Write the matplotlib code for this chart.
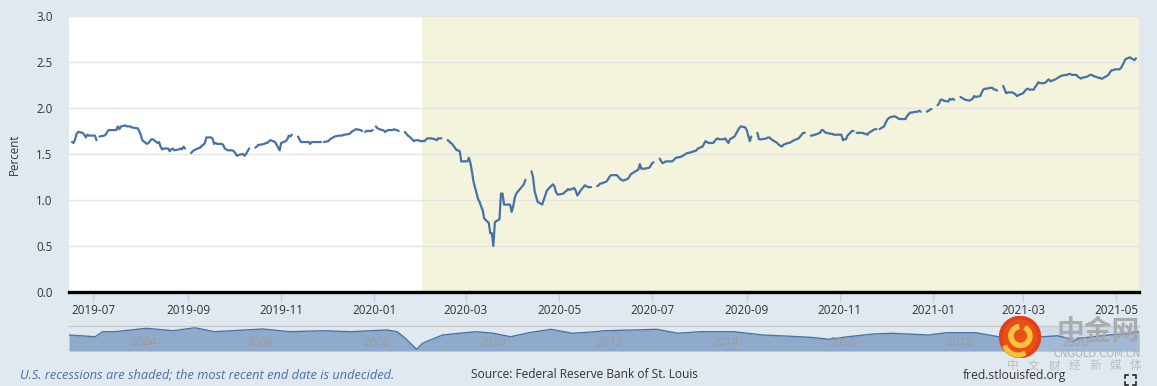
import numpy as np
import pandas as pd
import matplotlib
matplotlib.use('Agg')
import matplotlib.pyplot as plt
import matplotlib.dates as mdates
from matplotlib.patches import Circle, Wedge
from matplotlib.lines import Line2D

nan = np.nan

# 10-year breakeven inflation rate (percent), one value per business day
# nan = bond market holiday (FRED leaves a gap in the line)
rate_2019 = [
    # Jun (from the 17th)
    1.63, 1.62, 1.66, 1.72, 1.74, 1.73, 1.71, 1.68, 1.71, 1.70,
    # Jul
    1.70, 1.70, 1.65, nan, 1.69, 1.70, 1.71, 1.74, 1.76, 1.76,
    1.76, 1.76, 1.80, 1.77, 1.80, 1.81, 1.80, 1.80, 1.80, 1.79,
    1.78, 1.78, 1.75,
    # Aug
    1.71, 1.65, 1.61, 1.62, 1.64, 1.66, 1.66, 1.62, 1.63, 1.58,
    1.55, 1.56, 1.56, 1.53, 1.55, 1.56, 1.54, 1.55, 1.56, 1.55,
    1.58, 1.56,
    # Sep
    nan, 1.51, 1.53, 1.54, 1.55, 1.57, 1.59, 1.60, 1.62, 1.68,
    1.68, 1.67, 1.61, 1.62, 1.61, 1.61, 1.60, 1.56, 1.55, 1.54,
    1.54,
    # Oct
    1.53, 1.51, 1.48, 1.49, 1.50, 1.48, 1.50, 1.53, 1.56, nan,
    1.57, 1.58, 1.60, 1.60, 1.61, 1.62, 1.62, 1.64, 1.65, 1.63,
    1.60, 1.57, 1.54,
    # Nov
    1.62, 1.64, 1.66, 1.70, 1.69, 1.71, nan, 1.69, 1.66, 1.63,
    1.63, 1.63, 1.63, 1.61, 1.63, 1.63, 1.63, 1.63, 1.63, nan,
    1.63,
    # Dec
    1.64, 1.66, 1.67, 1.68, 1.69, 1.70, 1.70, 1.70, 1.71, 1.71,
    1.72, 1.74, 1.75, 1.76, 1.77, 1.76, 1.75, nan, 1.74, 1.75,
    1.75, 1.76,
]

rate_2020 = [
    # Jan
    nan, 1.80, 1.78, 1.76, 1.76, 1.74, 1.75, 1.76, 1.76, 1.77,
    1.76, 1.76, 1.75, nan, 1.74, 1.72, 1.70, 1.69, 1.64, 1.65,
    1.65, 1.65, 1.64,
    # Feb
    1.64, 1.66, 1.67, 1.67, 1.67, 1.66, 1.65, 1.67, 1.67, 1.67,
    nan, 1.65, 1.64, 1.62, 1.61, 1.54, 1.54, 1.53, 1.42, 1.42,
    # Mar
    1.42, 1.46, 1.40, 1.31, 1.20, 1.01, 0.98, 0.93, 0.89, 0.80,
    0.75, 0.64, 0.64, 0.50, 0.76, 0.79, 1.07, 1.07, 0.95, 0.95,
    0.95, 0.87,
    # Apr
    0.93, 1.02, 1.07, 1.13, 1.15, 1.17, 1.22, nan, 1.31, 1.25,
    1.10, 1.04, 0.98, 0.95, 1.00, 1.05, 1.10, 1.12, 1.17, 1.15,
    1.09, 1.06,
    # May
    1.06, 1.07, 1.09, 1.10, 1.12, 1.11, 1.13, 1.10, 1.05, 1.07,
    1.10, 1.16, 1.15, 1.14, 1.14, 1.14, nan, 1.15, 1.16, 1.18,
    1.18,
    # Jun
    1.20, 1.22, 1.25, 1.27, 1.27, 1.27, 1.25, 1.23, 1.22, 1.21,
    1.23, 1.25, 1.28, 1.29, 1.30, 1.33, 1.39, 1.34, 1.34, 1.34,
    1.35, 1.37,
    # Jul
    1.40, 1.41, nan, 1.45, 1.42, 1.40, 1.41, 1.42, 1.42, 1.42,
    1.43, 1.45, 1.46, 1.47, 1.48, 1.49, 1.50, 1.51, 1.52, 1.53,
    1.53, 1.54, 1.56,
    # Aug
    1.58, 1.61, 1.64, 1.63, 1.62, 1.62, 1.64, 1.66, 1.67, 1.66,
    1.66, 1.67, 1.64, 1.62, 1.66, 1.69, 1.72, 1.75, 1.78, 1.80,
    1.79,
    # Sep
    1.76, 1.70, 1.64, 1.69, nan, 1.73, 1.66, 1.66, 1.66, 1.67,
    1.68, 1.68, 1.66, 1.65, 1.62, 1.60, 1.59, 1.58, 1.60, 1.62,
    1.62, 1.63,
    # Oct
    1.64, 1.65, 1.67, 1.69, 1.71, 1.73, 1.73, nan, 1.70, 1.70,
    1.71, 1.71, 1.73, 1.76, 1.76, 1.74, 1.73, 1.72, 1.72, 1.71,
    1.71, 1.71,
    # Nov
    1.71, 1.65, 1.66, 1.66, 1.70, 1.75, 1.75, nan, 1.73, 1.73,
    1.73, 1.72, 1.72, 1.71, 1.73, 1.76, 1.77, 1.77, nan, 1.77,
    1.80,
    # Dec
    1.84, 1.87, 1.89, 1.90, 1.91, 1.90, 1.89, 1.88, 1.88, 1.88,
    1.91, 1.93, 1.95, 1.95, 1.96, 1.96, 1.97, 1.96, nan, 1.96,
    1.97, 1.98, 1.99,
]

rate_2021 = [
    # Jan
    nan, 2.03, 2.05, 2.09, 2.09, 2.08, 2.07, 2.10, 2.09, 2.10,
    2.09, nan, 2.12, 2.11, 2.10, 2.09, 2.08, 2.09, 2.10, 2.13,
    2.12,
    # Feb
    2.13, 2.17, 2.20, 2.21, 2.21, 2.22, 2.22, 2.20, 2.20, 2.19,
    nan, 2.24, 2.20, 2.16, 2.17, 2.17, 2.16, 2.15, 2.13, 2.14,
    # Mar
    2.16, 2.18, 2.20, 2.21, 2.20, 2.20, 2.23, 2.25, 2.28, 2.27,
    2.27, 2.28, 2.30, 2.31, 2.29, 2.31, 2.32, 2.33, 2.34, 2.35,
    2.36, 2.36, 2.37,
    # Apr
    2.37, 2.36, 2.36, 2.34, 2.33, 2.32, 2.33, 2.34, 2.35, 2.36,
    2.36, 2.35, 2.33, 2.33, 2.32, 2.32, 2.33, 2.36, 2.39, 2.41,
    2.41, 2.42,
    # May (to the 14th)
    2.42, 2.43, 2.46, 2.49, 2.53, 2.55, 2.54, 2.53, 2.52, 2.54,
]

# long history shown in the small navigator strip
nav_dates = ['2003-01-02', '2003-06-15', '2003-08-01', '2003-10-15', '2004-05-01',
             '2004-10-15', '2005-03-01', '2005-07-01', '2006-05-01', '2006-10-15',
             '2007-05-15', '2007-11-01', '2008-06-15', '2008-08-20', '2008-10-10',
             '2008-12-20', '2009-01-25', '2009-03-15', '2009-06-01', '2009-09-15',
             '2010-01-01', '2010-04-15', '2010-08-01', '2010-11-25', '2011-04-10',
             '2011-08-25', '2012-01-15', '2012-03-15', '2012-09-15', '2013-02-01',
             '2013-06-15', '2013-11-01', '2014-05-30', '2014-12-01', '2015-04-15',
             '2015-09-25', '2016-01-20', '2016-05-15', '2016-10-20', '2017-02-15',
             '2017-10-01', '2018-01-25', '2018-07-25', '2018-12-15', '2019-05-01',
             '2019-09-20', '2019-12-20', '2020-02-25', '2020-03-20', '2020-05-05',
             '2020-08-05', '2020-11-05', '2021-02-05', '2021-04-01', '2021-05-14']
nav_values = [2.00, 1.77, 2.44, 2.44, 2.89,
              2.57, 2.97, 2.44, 2.80, 2.44,
              2.57, 2.44, 2.67, 2.44, 1.56,
              0.09, 0.89, 1.33, 2.00, 2.23,
              2.44, 2.23, 1.77, 2.31, 2.76,
              2.23, 2.44, 2.57, 2.67, 2.76,
              2.23, 2.44, 2.44, 2.00, 1.87,
              1.69, 1.43, 1.77, 2.13, 2.23,
              2.00, 2.31, 2.31, 1.77, 2.00,
              1.77, 1.90, 1.56, 1.11, 1.56,
              1.77, 2.00, 2.13, 2.33, 2.44]
nav_years = [2004, 2006, 2008, 2010, 2012, 2014, 2016, 2018, 2020]

recession_start = '2020-02-01'

BG = '#e1e9f0'
LINE = '#4572a7'


def to_series(start, end, values):
    days = pd.bdate_range(start, end)
    if len(days) != len(values):
        raise ValueError(f'{start}: {len(days)} days but {len(values)} values')
    return pd.Series(values, index=days)


rates = pd.concat([
    to_series('2019-06-17', '2019-12-31', rate_2019),
    to_series('2020-01-01', '2020-12-31', rate_2020),
    to_series('2021-01-01', '2021-05-14', rate_2021),
])

W, H = 1157, 386
fig = plt.figure(figsize=(W / 100, H / 100), dpi=100, facecolor=BG)
plt.rcParams['font.family'] = ['Open Sans', 'DejaVu Sans']


def px_box(x0, y0, x1, y1):
    return [x0 / W, 1 - y1 / H, (x1 - x0) / W, (y1 - y0) / H]


# main chart
ax = fig.add_axes(px_box(69, 16, 1139, 292))
ax.set_facecolor('white')
x0, x1 = pd.Timestamp('2019-06-15'), pd.Timestamp('2021-05-16')
ax.axvspan(pd.Timestamp(recession_start), x1, color='#f4f4dc', lw=0, zorder=0)
ax.plot(rates.index, rates.values, color=LINE, lw=1.6, zorder=3,
        solid_joinstyle='round', solid_capstyle='round')
ax.set_xlim(x0, x1)
ax.set_ylim(0, 3)
ax.set_yticks(np.arange(0, 3.01, 0.5))
ax.yaxis.set_major_formatter(plt.FormatStrFormatter('%.1f'))
ax.yaxis.grid(True, color='#e4e4e4', lw=1)
ax.set_axisbelow(True)
ax.xaxis.set_major_locator(mdates.MonthLocator(bymonth=[1, 3, 5, 7, 9, 11]))
ax.xaxis.set_major_formatter(mdates.DateFormatter('%Y-%m'))
for side in ['left', 'right', 'top']:
    ax.spines[side].set_visible(False)
ax.spines['bottom'].set_color('black')
ax.spines['bottom'].set_linewidth(2.4)
ax.tick_params(axis='y', length=0, pad=12, labelsize=8.3, labelcolor='#333333')
ax.tick_params(axis='x', length=7, width=1, color='#c3d2e3', pad=2,
               labelsize=8.4, labelcolor='#333333')
fig.text(14 / W, 1 - 154 / H, 'Percent', rotation=90, ha='center', va='center',
         fontsize=8.3, color='#333333')

# navigator strip
nav = fig.add_axes(px_box(69, 326, 1139, 351))
nav.set_facecolor(BG)
nd = pd.to_datetime(nav_dates)
nav.fill_between(nd, nav_values, -0.13, color='#90aacb', lw=0)
nav.plot(nd, nav_values, color='#4a74a9', lw=1)
nav.axvspan(x0, x1, color='#b9cbe6', alpha=0.45, lw=0)
nav.set_xlim(nd[0], nd[-1])
nav.set_ylim(-0.13, 3.2)
nav.set_xticks([])
nav.set_yticks([])
for side in ['left', 'right', 'bottom']:
    nav.spines[side].set_visible(False)
nav.spines['top'].set_color('#c8c8c8')
nav.spines['top'].set_linewidth(1)
for yr in nav_years:
    nav.text(pd.Timestamp(f'{yr}-01-20'), 1.05, str(yr), ha='left', va='center',
             fontsize=8.3, color='#a09a94')

# footer
fig.text(20 / W, 1 - 375 / H, 'U.S. recessions are shaded; the most recent end date is undecided.',
         ha='left', va='center', fontsize=9.2, style='italic', color='#4a6ea8')
fig.text(471 / W, 1 - 375 / H, 'Source: Federal Reserve Bank of St. Louis',
         ha='left', va='center', fontsize=8.6, color='#333333')
fig.text(963 / W, 1 - 376 / H, 'fred.stlouisfed.org',
         ha='left', va='center', fontsize=8.7, color='#333333')

# fullscreen icon
for (cx, cy, dx, dy) in [(1125, 375, 1, 1), (1136, 375, -1, 1), (1125, 385, 1, -1), (1136, 385, -1, -1)]:
    fig.add_artist(Line2D([cx / W, cx / W, (cx + 3 * dx) / W],
                          [1 - (cy + 3 * dy) / H, 1 - cy / H, 1 - cy / H],
                          color='#222222', lw=1.2))

# watermark logo
logo = fig.add_axes(px_box(999, 316, 1041, 358))
logo.set_xlim(-1, 1)
logo.set_ylim(-1, 1)
logo.set_aspect('equal')
logo.axis('off')
logo.add_patch(Circle((0, 0), 0.98, color='#e0401c'))
logo.add_patch(Circle((0, 0), 0.8, color='#e8501a'))
logo.add_patch(Wedge((0.02, 0.05), 0.55, 100, 420, width=0.2, color='#f7c23c'))
logo.add_patch(Wedge((-0.1, -0.2), 0.75, 200, 300, width=0.18, color='#f7c23c'))
fig.text(1098 / W, 1 - 332 / H, '中金网', ha='center', va='center', fontsize=20,
         fontweight='bold', color='#a6a6a6', alpha=0.9,
         family=['Noto Sans CJK SC', 'DejaVu Sans'])
fig.text(1097 / W, 1 - 354 / H, 'CNGOLD.COM.CN', ha='center', va='center', fontsize=7.2,
         color='#b0b0b0', family=['DejaVu Sans'])
for i, ch in enumerate('中文财经新媒体'):
    fig.text((1013 + i * 20.5) / W, 1 - 366 / H, ch, ha='center', va='center',
             fontsize=8.5, color='#bdbdbd', family=['Noto Sans CJK SC', 'DejaVu Sans'])

fig.savefig('out.png', dpi=100, facecolor=BG)
